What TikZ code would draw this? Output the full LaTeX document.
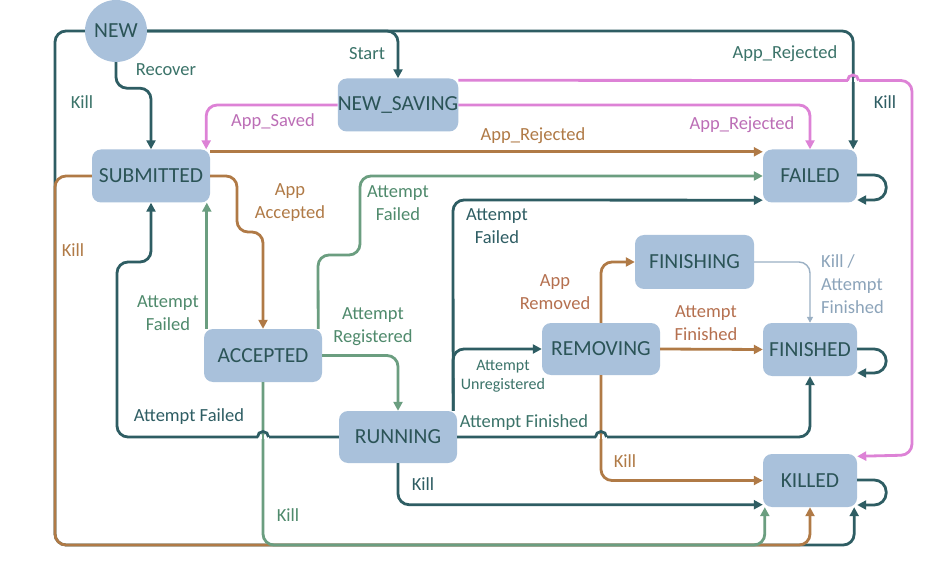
\documentclass[tikz,border=0pt]{standalone}
\usepackage{fontspec}
\setmainfont{Carlito}
\usetikzlibrary{arrows.meta}
\definecolor{nodefill}{HTML}{A9C1DB}
\definecolor{nodetext}{HTML}{2B5457}
\definecolor{cteal}{HTML}{2E5D63}
\definecolor{ltteal}{HTML}{3B7369}
\definecolor{cbrown}{HTML}{B07A46}
\definecolor{cpink}{HTML}{DD82D6}
\definecolor{cgreen}{HTML}{6B9E80}
\definecolor{lgreen}{HTML}{4F8A6C}
\definecolor{cgray}{HTML}{9BB0C4}
\definecolor{lgray}{HTML}{8CA4BA}
\definecolor{cpbrown}{HTML}{B5704F}
\newcommand{\hopover}[4]{% #1 point, #2 over colour, #3 under colour
  \fill[white] ([xshift=-5.5pt,yshift=-2pt]#1) rectangle ([xshift=5.5pt,yshift=2pt]#1);
  \draw[line width=2.8pt, #3] ([yshift=-6pt]#1) -- ([yshift=6pt]#1);
  \draw[line width=2.8pt, #2] ([xshift=-5.5pt]#1) arc (180:360:5.5);}
\begin{document}
\begin{tikzpicture}[x=1pt,y=-1pt,
  state/.style={fill=nodefill, rounded corners=9pt, inner sep=0pt, text=nodetext,
    font=\fontsize{21.5}{24}\selectfont},
  wide/.style={minimum width=118pt, minimum height=53pt},
  narrow/.style={minimum width=94pt, minimum height=53pt},
  conn/.style={line width=2.8pt, rounded corners=11pt, -{Triangle[length=9pt,width=9pt]}},
  thinconn/.style={line width=1.4pt, rounded corners=11pt, -{Triangle[length=6pt,width=6pt]}},
  lbl/.style={font=\fontsize{18.5}{23}\selectfont, align=center, inner sep=0pt},
  slbl/.style={font=\fontsize{16}{19}\selectfont, align=center, inner sep=0pt}]
\useasboundingbox (0,0) rectangle (950,585);
\fill[white] (0,0) rectangle (950,585);

% states
\node[state, circle, minimum size=62pt] (NEW) at (116,31) {NEW};
\node[state, wide] (NS) at (398,105) {NEW\_SAVING};
\node[state, wide] (SUB) at (151,176) {SUBMITTED};
\node[state, narrow] (FAILED) at (810,176) {FAILED};
\node[state, wide] (ACC) at (263,355.5) {ACCEPTED};
\node[state, minimum width=119pt, minimum height=54pt] (FING) at (694.5,262) {FINISHING};
\node[state, wide, minimum height=52pt] (REM) at (601,349) {REMOVING};
\node[state, narrow] (FINED) at (810,349.5) {FINISHED};
\node[state, wide, minimum height=52pt] (RUN) at (398,437) {RUNNING};
\node[state, narrow] (KILLED) at (810,480.5) {KILLED};

% kill lines along the bottom (layered)
\draw[conn, cteal] (NEW.west) -- (55,31) -- (55,545) -| ([xshift=-3pt]KILLED.south east);
\draw[conn, cbrown] (SUB.west) -- (55,176) -- (55,545) -| (KILLED.south);
\draw[conn, cgreen] (ACC.south) -- (263,545) -| ([xshift=2pt]KILLED.south west);

% from NEW
\draw[conn, cteal] (NEW.south) -- ++(0,26) -| (SUB.north);
\draw[conn, cteal] (NEW.east) -| (NS.north);
\draw[conn, cteal] (NEW.east) -| ([xshift=-4pt]FAILED.north east);

% from NEW_SAVING
\draw[conn, cpink] (NS.west) -| ([xshift=-4pt]SUB.north east);
\draw[conn, cpink] (NS.east) -| (FAILED.north);
\draw[conn, cpink] ([yshift=-2pt]NS.north east) -- (912,80.5) -- (912,455) -- ([yshift=-2.5pt]KILLED.north east);
\coordinate (hopA) at (853,80.5);
\hopover{hopA}{cpink}{cteal}{}

% from SUBMITTED
\draw[conn, cbrown] ([yshift=-2.5pt]SUB.north east) -- ([yshift=-2.5pt]FAILED.north west);
\draw[conn, cbrown] (SUB.east) -- (237,176) -- (237,232) -- (263,232) -- (ACC.north);

% from ACCEPTED
\draw[conn, cgreen] ([xshift=3pt]ACC.north west) -- ([xshift=3pt]ACC.north west |- SUB.south);
\draw[conn, cgreen] ([xshift=-4pt]ACC.north east) -- (318,255) -- (360,255) -- (360,176) -- (FAILED.west);
\draw[conn, cgreen] (ACC.east) -| (RUN.north);

% from RUNNING
\draw[conn, cteal] (RUN.west) -- (117,437) -- (117,262) -- (151,262) -- (SUB.south);
\coordinate (hopB) at (263,437);
\hopover{hopB}{cteal}{cgreen}{}
\draw[conn, cteal] ([xshift=-4pt]RUN.north east) -- (453,200) -- ([yshift=2.5pt]FAILED.south west);
\draw[conn, cteal] ([xshift=-4pt]RUN.north east) -- (453,349) -- (REM.west);
\draw[conn, cteal] (RUN.south) |- ([yshift=2.5pt]KILLED.south west);

% from REMOVING
\draw[conn, cbrown] (REM.north) |- (FING.west);
\draw[conn, cbrown] (REM.east) -- (FINED.west);
\draw[conn, cbrown] (REM.south) |- (KILLED.west);

\draw[conn, cteal] (RUN.east) -| (FINED.south);
\coordinate (hopC) at (601,437);
\hopover{hopC}{cteal}{cbrown}{}

% from FINISHING
\draw[thinconn, cgray] (FING.east) -| (FINED.north);

% self loops
\draw[conn, cteal, rounded corners=12pt] ([yshift=1pt]FAILED.east) -- ++(29,0) -- ++(0,25) -- ++(-29,0);
\draw[conn, cteal, rounded corners=12pt] ([yshift=0.5pt]FINED.east) -- ++(29,0) -- ++(0,24) -- ++(-29,0);
\draw[conn, cteal, rounded corners=12pt] ([yshift=0.5pt]KILLED.east) -- ++(29,0) -- ++(0,25) -- ++(-29,0);

% labels
\node[lbl, text=ltteal] (lStart) at (367,54) {Start};
\node[lbl, text=ltteal] (lRecover) at (166,70) {Recover};
\node[lbl, text=ltteal] (lKillNew) at (82,102) {Kill};
\node[lbl, text=ltteal] (lRejNew) at (785,54) {App\_Rejected};
\node[lbl, text=cteal] (lKillNS) at (885,102) {Kill};
\node[lbl, text=cpink!85!black] (lSaved) at (273,122) {App\_Saved};
\node[lbl, text=cbrown] (lRejSub) at (533,136) {App\_Rejected};
\node[lbl, text=cpink!85!black] (lRejNS) at (742,125) {App\_Rejected};
\node[lbl, text=cbrown] (lAccepted) at (290,203) {App\\Accepted};
\node[lbl, text=cbrown] (lKillSub) at (73,250) {Kill};
\node[lbl, text=lgreen] (lFailAccF) at (398,203) {Attempt\\Failed};
\node[lbl, text=cteal] (lFailRunF) at (497,226) {Attempt\\Failed};
\node[lbl, text=lgreen] (lFailAccS) at (168,313) {Attempt\\Failed};
\node[lbl, text=lgreen] (lReg) at (373,327) {Attempt\\Registered};
\node[lbl, text=cpbrown] (lRemoved) at (555,292) {App\\Removed};
\node[lbl, text=cpbrown] (lFinRem) at (706,323) {Attempt\\Finished};
\node[lbl, text=lgray, align=left, anchor=west] (lFinKill) at (821,284) {Kill /\\Attempt\\Finished};
\node[slbl, text=ltteal] (lUnreg) at (503,376) {Attempt\\Unregistered};
\node[lbl, text=cteal] (lFailRunS) at (189,417) {Attempt Failed};
\node[lbl, text=ltteal] (lFinRun) at (524,423) {Attempt Finished};
\node[lbl, text=cbrown] (lKillRem) at (625,461) {Kill};
\node[lbl, text=cteal] (lKillRun) at (423,484) {Kill};
\node[lbl, text=lgreen] (lKillAcc) at (288,515) {Kill};
\end{tikzpicture}
\end{document}
